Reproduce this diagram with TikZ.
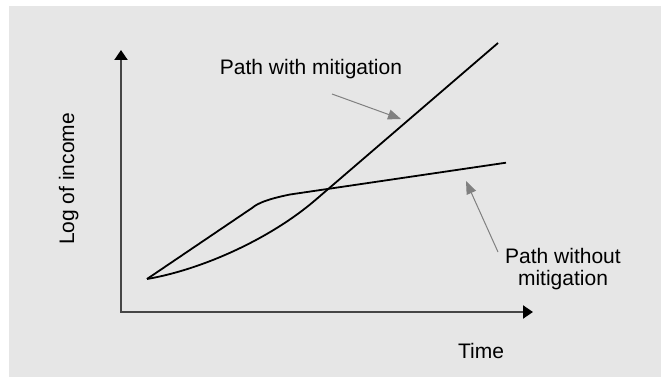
\documentclass[tikz,border=0pt]{standalone}
\usepackage{fontspec}
\setmainfont{Liberation Sans}
\usetikzlibrary{arrows.meta}
\definecolor{fundo}{RGB}{230,230,230}
\definecolor{cinzaeixo}{RGB}{70,70,70}
\definecolor{cinzaseta}{RGB}{128,128,128}
\tikzset{
eixo/.style={draw=cinzaeixo, line width=2pt, line join=miter,
  {Triangle[length=10pt,width=13pt,black]}-{Triangle[length=10pt,width=13pt,black]}}
                }
\tikzset{
trajeto/.style = {draw=black, line width=1.8pt, line join=round}
         }
\tikzset{
indica/.style = {draw=cinzaseta, line width=1pt, -{Triangle[length=13pt,width=10pt,cinzaseta]}}
         }
\tikzset{
rotulo/.style = {font=\fontsize{21}{22}\selectfont, inner sep=0pt}
         }
\begin{document}
\begin{tikzpicture}[x=1pt,y=-1pt]
    \useasboundingbox (0,0) rectangle (661,377);

          % FUNDO
    \fill[fundo] (9,6) rectangle (661,377);

          % EIXOS
    \coordinate (orig) at (121,312);
    \coordinate (topoY) at (121,50);
    \coordinate (fimX) at (533,312);
    \draw[eixo] (topoY) -- (orig) -- (fimX);

          % CURVAS
    \coordinate (P0) at (147,279);
    \draw[trajeto] (P0) .. controls (200,270) and (269,240) .. (316,199.5) -- (498,43) coordinate (C1);
    \draw[trajeto] (P0) -- (252,208) .. controls (258,203) and (268,199) .. (290,194.5) -- (506,162.7) coordinate (C2);

          % ROTULOS
    \node[rotulo, anchor=base] (com) at (311,75) {Path with mitigation};
    \node[rotulo, anchor=base] (tempo) at (481,358) {Time};
    \node[rotulo, anchor=base, rotate=90] (renda) at (74,179) {Log of income};
    \node[rotulo, anchor=north, align=center] (sem) at (563,248) {Path without\\mitigation};

          % SETAS
    \coordinate (A1) at (332,94);
    \coordinate (B1) at (401,119);
    \draw[indica] (A1) -- (B1);
    \coordinate (A2) at (498,252);
    \coordinate (B2) at (466,181);
    \draw[indica] (A2) -- (B2);

\end{tikzpicture}
\end{document}
